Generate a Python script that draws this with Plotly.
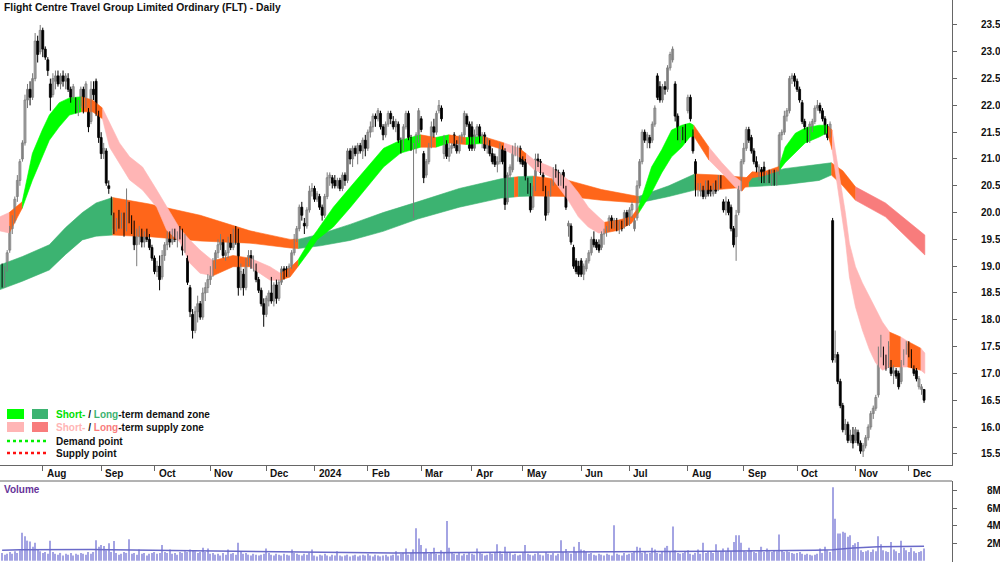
import plotly.graph_objects as go

W, H = 1000, 562
FONT = "Liberation Sans, Arial, sans-serif"

title_text = "Flight Centre Travel Group Limited Ordinary (FLT) - Daily"
month_labels = ["Aug", "Sep", "Oct", "Nov", "Dec", "2024", "Feb", "Mar", "Apr",
                "May", "Jun", "Jul", "Aug", "Sep", "Oct", "Nov", "Dec"]
month_start_idx = [16, 39, 60, 82, 104, 123, 144, 165, 185, 205, 228, 247, 270,
                   292, 313, 336, 357]
price_ticks = [15.5, 16.0, 16.5, 17.0, 17.5, 18.0, 18.5, 19.0, 19.5, 20.0, 20.5,
               21.0, 21.5, 22.0, 22.5, 23.0, 23.5]
vol_ticks = [2, 4, 6, 8]
vol_tick_text = ["2M", "4M", "6M", "8M"]

opens = [
    19.00, 18.70, 18.95, 19.30, 19.70, 19.85, 20.30, 20.60, 21.00, 21.30,
    22.10, 22.30, 22.15, 22.50, 23.20, 23.00, 23.40, 23.05, 22.85, 22.40,
    22.20, 22.45, 22.55, 22.40, 22.55, 22.45, 22.50, 22.30, 22.15, 22.10,
    21.95, 22.00, 22.30, 22.00, 21.90, 21.70, 22.30, 22.45, 21.85, 21.40,
    21.10, 21.15, 20.50, 20.25, 19.95, 19.70, 19.85, 19.80, 19.95, 19.70,
    20.15, 19.90, 19.70, 19.40, 19.55, 19.60, 19.45, 19.60, 19.50, 19.35,
    19.15, 18.90, 19.00, 18.80, 19.20, 19.40, 19.55, 19.45, 19.60, 19.50,
    19.60, 19.50, 19.30, 19.15, 18.60, 18.10, 17.80, 18.15, 18.30, 18.05,
    18.50, 18.60, 18.75, 18.95, 19.05, 19.25, 19.40, 19.45, 19.20, 19.25,
    19.45, 19.35, 19.60, 19.50, 18.60, 18.85, 18.60, 19.10, 19.20, 19.05,
    19.00, 18.75, 18.55, 18.30, 18.10, 18.35, 18.50, 18.35, 18.65, 18.40,
    18.70, 18.95, 18.95, 18.85, 19.00, 19.25, 19.50, 19.70, 20.10, 19.80,
    19.75, 20.05, 20.40, 20.45, 20.25, 20.30, 20.10, 19.95, 20.30, 20.65,
    20.65, 20.60, 20.50, 20.60, 20.45, 20.70, 20.60, 21.15, 21.00, 21.20,
    21.10, 21.25, 21.15, 21.35, 21.20, 21.50, 21.60, 21.80, 21.75, 21.85,
    21.60, 21.45, 21.65, 21.85, 21.70, 21.60, 21.65, 21.30, 21.20, 21.60,
    21.85, 21.40, 21.20, 21.25, 21.35, 21.75, 21.10, 20.70, 20.95, 21.25,
    21.60, 21.50, 21.90, 21.95, 21.10, 21.30, 21.05, 21.20, 21.45, 21.25,
    21.15, 21.40, 21.45, 21.80, 21.65, 21.60, 21.20, 21.45, 21.60, 21.35,
    21.45, 21.20, 21.30, 21.10, 21.05, 20.90, 20.95, 21.20, 21.15, 20.20,
    20.70, 20.80, 21.15, 21.10, 21.20, 21.00, 20.95, 20.60, 20.50, 20.10,
    20.45, 21.00, 20.95, 20.70, 20.45, 20.00, 20.35, 20.55, 20.80, 20.75,
    20.55, 20.75, 20.45, 19.75, 19.75, 19.35, 19.10, 19.00, 19.10, 18.85,
    18.95, 19.10, 19.25, 19.50, 19.45, 19.40, 19.35, 19.60, 19.65, 19.70,
    19.90, 19.75, 19.85, 19.70, 19.80, 19.75, 20.00, 19.80, 20.05, 19.70,
    19.90, 20.50, 20.95, 21.50, 21.35, 21.40, 21.35, 21.65, 22.55, 22.35,
    22.10, 22.35, 22.30, 22.70, 22.85, 22.40, 21.80, 21.40, 21.50, 21.60,
    21.90, 22.15, 21.50, 20.95, 20.45, 20.40, 20.45, 20.30, 20.55, 20.45,
    20.35, 20.55, 20.45, 20.65, 20.20, 20.05, 20.20, 20.10, 19.70, 19.55,
    20.00, 20.45, 20.95, 21.20, 21.55, 21.40, 21.15, 20.95, 20.75, 20.80,
    20.85, 20.60, 20.75, 20.60, 20.75, 20.55, 20.75, 21.45, 21.50, 21.80,
    21.90, 22.50, 22.55, 22.45, 22.30, 22.05, 21.70, 21.55, 21.35, 21.60,
    21.70, 21.95, 22.00, 21.90, 21.75, 21.60, 21.45, 19.85, 17.30, 17.35,
    16.85, 16.40, 15.95, 16.05, 15.75, 15.85, 15.75, 15.90, 15.70, 15.55,
    15.65, 15.80, 16.00, 16.25, 16.35, 16.60, 17.40, 17.45, 17.25, 17.15,
    17.20, 17.00, 17.05, 17.00, 16.85, 17.20, 17.40, 17.55, 17.40, 17.10,
    17.05, 16.75, 16.70, 16.70,
]

highs = [
    19.05, 19.00, 19.30, 19.75, 19.95, 20.30, 20.70, 21.00, 21.35, 22.20,
    22.40, 22.45, 22.60, 23.35, 23.30, 23.50, 23.45, 23.10, 22.90, 22.50,
    22.60, 22.65, 22.65, 22.60, 22.65, 22.60, 22.60, 22.35, 22.40, 22.15,
    22.10, 22.35, 22.35, 22.45, 21.95, 22.45, 22.45, 22.50, 21.90, 21.50,
    21.30, 21.20, 20.60, 20.30, 20.00, 19.90, 20.05, 20.00, 20.00, 20.45,
    20.20, 19.95, 19.85, 19.70, 19.75, 19.70, 19.65, 19.70, 19.60, 19.40,
    19.20, 19.10, 19.20, 19.30, 19.45, 19.65, 19.65, 19.70, 19.70, 19.65,
    19.75, 19.70, 19.60, 19.20, 18.65, 18.20, 18.25, 18.45, 18.35, 18.60,
    18.70, 18.85, 19.00, 19.15, 19.30, 19.50, 19.60, 19.50, 19.30, 19.55,
    19.60, 19.70, 19.75, 19.70, 19.05, 18.95, 19.15, 19.30, 19.30, 19.20,
    19.05, 18.80, 18.60, 18.40, 18.45, 18.55, 18.80, 18.70, 18.75, 18.75,
    19.00, 19.00, 19.00, 19.05, 19.30, 19.60, 19.75, 20.15, 20.20, 19.90,
    20.10, 20.50, 20.55, 20.50, 20.40, 20.35, 20.15, 20.35, 20.75, 20.75,
    20.70, 20.70, 20.65, 20.65, 20.75, 20.75, 21.20, 21.20, 21.25, 21.25,
    21.30, 21.30, 21.40, 21.45, 21.55, 21.70, 21.85, 21.85, 21.95, 21.90,
    21.65, 21.70, 21.90, 21.90, 21.80, 21.75, 21.70, 21.40, 21.65, 21.90,
    21.90, 21.45, 21.30, 21.50, 21.95, 21.80, 21.15, 21.00, 21.30, 21.70,
    21.75, 21.90, 22.10, 22.00, 21.45, 21.35, 21.30, 21.30, 21.50, 21.35,
    21.45, 21.50, 21.90, 21.85, 21.70, 21.70, 21.55, 21.65, 21.65, 21.50,
    21.50, 21.40, 21.35, 21.20, 21.10, 21.05, 21.30, 21.25, 21.20, 20.75,
    20.90, 21.25, 21.30, 21.25, 21.25, 21.05, 21.00, 20.65, 20.55, 20.50,
    21.10, 21.10, 21.00, 20.75, 20.50, 20.40, 20.60, 20.85, 20.90, 20.80,
    20.75, 20.80, 20.50, 19.85, 19.80, 19.40, 19.15, 19.10, 19.15, 19.05,
    19.15, 19.30, 19.55, 19.65, 19.50, 19.50, 19.65, 19.70, 19.75, 19.95,
    19.95, 19.90, 19.90, 19.85, 19.85, 20.05, 20.05, 20.10, 20.20, 19.90,
    20.60, 21.00, 21.55, 21.55, 21.50, 21.45, 21.70, 22.00, 22.60, 22.45,
    22.40, 22.45, 22.75, 23.00, 23.10, 22.45, 21.85, 21.55, 21.60, 21.65,
    22.20, 22.20, 21.55, 21.00, 20.55, 20.55, 20.50, 20.60, 20.60, 20.50,
    20.55, 20.60, 20.70, 20.70, 20.25, 20.30, 20.25, 20.15, 19.75, 20.05,
    20.50, 21.00, 21.30, 21.60, 21.60, 21.45, 21.20, 21.05, 20.90, 20.85,
    20.95, 20.75, 20.80, 20.80, 20.80, 20.80, 21.50, 21.55, 21.90, 21.95,
    22.55, 22.60, 22.60, 22.50, 22.35, 22.10, 21.75, 21.60, 21.70, 21.75,
    22.00, 22.10, 22.05, 21.95, 21.80, 21.65, 21.70, 19.90, 17.80, 17.40,
    16.90, 16.45, 16.15, 16.10, 15.95, 16.00, 16.00, 15.95, 15.75, 15.70,
    15.85, 16.05, 16.30, 16.40, 16.60, 17.50, 17.72, 17.50, 17.35, 17.60,
    17.25, 17.15, 17.10, 17.05, 17.25, 17.45, 17.60, 17.60, 17.45, 17.15,
    17.10, 16.95, 16.80, 16.70,
]

lows = [
    18.60, 18.60, 18.90, 19.25, 19.60, 19.80, 20.20, 20.50, 20.95, 21.25,
    21.95, 22.00, 22.10, 22.45, 22.80, 22.95, 22.90, 22.85, 22.55, 21.90,
    22.15, 22.30, 22.35, 22.30, 22.35, 22.30, 22.25, 22.05, 22.10, 21.85,
    21.80, 21.95, 21.85, 21.95, 21.50, 21.65, 22.10, 21.80, 21.30, 21.00,
    21.00, 20.50, 20.35, 19.95, 19.60, 19.65, 19.70, 19.70, 19.55, 19.65,
    19.80, 19.60, 19.30, 19.00, 19.40, 19.35, 19.35, 19.45, 19.30, 19.10,
    18.85, 18.80, 18.55, 18.75, 19.10, 19.30, 19.35, 19.40, 19.45, 19.35,
    19.50, 19.20, 19.25, 18.65, 18.05, 17.65, 17.75, 17.95, 18.00, 18.00,
    18.35, 18.50, 18.65, 18.80, 18.95, 19.15, 19.30, 19.15, 19.10, 19.15,
    19.30, 19.30, 19.40, 18.45, 18.55, 18.45, 18.55, 19.00, 18.95, 18.90,
    18.70, 18.50, 18.25, 17.87, 18.05, 18.25, 18.30, 18.25, 18.30, 18.35,
    18.65, 18.75, 18.80, 18.80, 18.95, 19.20, 19.45, 19.65, 19.85, 19.60,
    19.70, 20.00, 20.30, 20.20, 20.20, 20.05, 19.85, 19.90, 20.25, 20.50,
    20.45, 20.45, 20.45, 20.40, 20.40, 20.50, 20.55, 20.90, 20.85, 21.05,
    20.90, 21.10, 21.00, 21.05, 21.15, 21.40, 21.50, 21.60, 21.70, 21.55,
    21.35, 21.40, 21.60, 21.65, 21.55, 21.50, 21.30, 21.10, 21.15, 21.55,
    21.35, 21.15, 19.90, 21.10, 21.30, 21.50, 20.55, 20.65, 20.90, 21.20,
    21.40, 21.45, 21.85, 21.70, 21.00, 21.00, 20.95, 21.10, 21.20, 21.10,
    21.10, 21.30, 21.40, 21.60, 21.15, 21.15, 21.15, 21.40, 21.30, 21.20,
    21.15, 21.10, 21.05, 20.90, 20.85, 20.75, 20.90, 20.90, 20.05, 20.15,
    20.60, 20.75, 21.05, 20.95, 20.90, 20.85, 20.60, 20.35, 20.00, 20.05,
    20.40, 20.85, 20.70, 20.40, 19.85, 19.95, 20.30, 20.50, 20.65, 20.50,
    20.50, 20.45, 20.05, 19.55, 19.40, 18.95, 18.85, 18.80, 18.80, 18.74,
    18.90, 19.05, 19.20, 19.35, 19.30, 19.25, 19.30, 19.40, 19.55, 19.65,
    19.70, 19.70, 19.65, 19.60, 19.65, 19.70, 19.75, 19.75, 19.90, 19.65,
    19.85, 20.45, 20.90, 21.30, 21.20, 21.20, 21.30, 21.60, 22.10, 22.05,
    22.05, 22.20, 22.25, 22.65, 22.80, 21.70, 21.35, 21.30, 21.35, 21.30,
    21.85, 21.70, 21.10, 20.30, 20.30, 20.30, 20.25, 20.25, 20.30, 20.30,
    20.30, 20.35, 20.40, 20.45, 20.00, 19.95, 19.95, 19.65, 19.35, 19.10,
    19.95, 20.40, 20.90, 21.15, 21.30, 21.10, 20.90, 20.75, 20.60, 20.55,
    20.55, 20.55, 20.55, 20.50, 20.50, 20.50, 20.70, 21.35, 21.45, 21.70,
    21.85, 22.40, 22.35, 22.25, 22.05, 21.65, 21.55, 21.30, 21.30, 21.50,
    21.65, 21.90, 21.85, 21.70, 21.45, 21.35, 21.40, 17.20, 17.20, 16.80,
    16.35, 15.90, 15.85, 15.70, 15.70, 15.60, 15.70, 15.65, 15.50, 15.44,
    15.60, 15.75, 15.95, 16.15, 16.30, 16.55, 17.30, 17.15, 17.05, 17.10,
    16.95, 16.80, 16.90, 16.70, 16.80, 17.15, 17.35, 17.30, 17.10, 16.95,
    16.85, 16.70, 16.60, 16.45,
]

closes = [
    18.70, 18.95, 19.25, 19.70, 19.85, 20.25, 20.60, 20.95, 21.30, 22.10,
    22.30, 22.15, 22.50, 23.20, 22.95, 23.40, 23.05, 22.90, 22.65, 22.15,
    22.50, 22.55, 22.40, 22.55, 22.45, 22.55, 22.30, 22.15, 22.35, 21.95,
    22.05, 22.30, 21.90, 22.40, 21.60, 22.30, 22.20, 21.90, 21.40, 21.10,
    21.20, 20.55, 20.45, 20.00, 19.70, 19.85, 19.75, 19.90, 19.65, 20.20,
    19.90, 19.70, 19.40, 19.55, 19.65, 19.45, 19.60, 19.50, 19.35, 19.15,
    18.90, 19.00, 18.75, 19.20, 19.40, 19.55, 19.45, 19.60, 19.50, 19.60,
    19.55, 19.30, 19.50, 18.70, 18.15, 17.80, 18.15, 18.30, 18.05, 18.50,
    18.60, 18.75, 18.95, 19.05, 19.25, 19.40, 19.50, 19.20, 19.25, 19.45,
    19.35, 19.65, 19.50, 18.60, 18.90, 18.60, 19.10, 19.20, 19.05, 19.10,
    18.75, 18.55, 18.30, 18.10, 18.40, 18.50, 18.35, 18.65, 18.40, 18.70,
    18.95, 18.85, 18.85, 19.00, 19.25, 19.50, 19.70, 20.10, 19.95, 19.75,
    20.05, 20.40, 20.45, 20.25, 20.35, 20.10, 19.95, 20.30, 20.65, 20.70,
    20.55, 20.50, 20.60, 20.45, 20.70, 20.60, 21.15, 21.00, 21.20, 21.10,
    21.25, 21.15, 21.35, 21.20, 21.50, 21.60, 21.80, 21.75, 21.90, 21.60,
    21.45, 21.65, 21.85, 21.75, 21.60, 21.70, 21.35, 21.20, 21.60, 21.85,
    21.40, 21.20, 21.25, 21.45, 21.90, 21.55, 20.65, 20.95, 21.25, 21.60,
    21.50, 21.85, 22.00, 21.75, 21.40, 21.05, 21.20, 21.25, 21.25, 21.15,
    21.40, 21.45, 21.85, 21.65, 21.20, 21.20, 21.45, 21.60, 21.35, 21.45,
    21.20, 21.30, 21.10, 20.95, 20.90, 20.95, 21.20, 20.95, 20.15, 20.70,
    20.85, 21.15, 21.20, 21.20, 20.95, 20.90, 20.65, 20.40, 20.05, 20.45,
    21.00, 20.95, 20.75, 20.45, 19.95, 20.35, 20.55, 20.80, 20.70, 20.55,
    20.70, 20.50, 20.10, 19.80, 19.45, 19.00, 18.90, 18.85, 18.85, 19.00,
    19.10, 19.25, 19.50, 19.40, 19.35, 19.30, 19.60, 19.65, 19.70, 19.90,
    19.75, 19.85, 19.70, 19.80, 19.70, 20.00, 19.80, 20.05, 20.15, 19.85,
    20.50, 20.95, 21.50, 21.35, 21.45, 21.30, 21.65, 21.95, 22.15, 22.10,
    22.35, 22.30, 22.70, 22.95, 23.05, 21.80, 21.40, 21.50, 21.40, 21.35,
    22.15, 21.75, 21.15, 20.45, 20.50, 20.45, 20.30, 20.55, 20.35, 20.40,
    20.50, 20.40, 20.65, 20.50, 20.05, 20.20, 20.00, 19.70, 19.40, 19.95,
    20.45, 20.95, 21.20, 21.55, 21.35, 21.15, 20.95, 20.85, 20.85, 20.60,
    20.60, 20.70, 20.60, 20.75, 20.55, 20.75, 21.45, 21.50, 21.80, 21.90,
    22.50, 22.55, 22.45, 22.30, 22.10, 21.70, 21.60, 21.35, 21.65, 21.70,
    21.95, 22.00, 21.90, 21.75, 21.50, 21.40, 21.65, 17.25, 17.35, 16.85,
    16.40, 15.95, 16.05, 15.75, 15.85, 15.70, 15.95, 15.70, 15.55, 15.65,
    15.80, 16.00, 16.25, 16.35, 16.55, 17.40, 17.55, 17.20, 17.10, 17.50,
    17.00, 17.05, 16.95, 16.75, 17.20, 17.40, 17.55, 17.35, 17.15, 17.00,
    16.90, 16.90, 16.75, 16.50,
]

# daily volume, millions of shares
volumes = [
    0.9, 0.7, 0.8, 1.0, 0.8, 1.1, 0.9, 1.2, 3.2, 2.8,
    2.3, 2.2, 1.6, 2.05, 1.3, 1.1, 0.9, 1.0, 0.8, 2.3,
    1.0, 0.8, 0.7, 0.9, 0.6, 0.8, 0.7, 0.9, 0.6, 0.8,
    0.7, 0.9, 0.8, 0.7, 1.0, 0.8, 1.0, 2.35, 1.6, 1.8,
    1.7, 1.2, 2.0, 1.0, 2.25, 0.9, 0.7, 0.8, 1.0, 0.9,
    2.45, 0.8, 0.9, 0.7, 1.3, 0.8, 0.9, 0.6, 0.8, 0.9,
    1.0, 0.8, 0.9, 1.8, 1.0, 0.9, 1.3, 0.8, 0.9, 0.7,
    1.0, 0.9, 1.1, 1.0, 1.3, 1.2, 1.1, 0.9, 1.0, 1.5,
    1.0, 1.4, 0.8, 0.9, 0.7, 0.8, 0.6, 0.9, 0.7, 1.3,
    0.8, 0.9, 0.7, 2.05, 1.0, 0.8, 0.9, 0.7, 0.6, 0.8,
    0.7, 0.6, 0.7, 0.8, 1.4, 0.9, 0.7, 0.6, 0.8, 0.7,
    0.6, 0.8, 0.7, 0.6, 1.3, 0.9, 0.8, 0.7, 0.6, 0.8,
    0.7, 0.9, 1.3, 0.6, 0.5, 0.7, 0.6, 0.8, 0.6, 0.5,
    0.7, 0.6, 1.1, 0.6, 0.5, 0.6, 0.7, 0.5, 0.6, 0.7,
    0.5, 0.6, 0.7, 0.6, 0.8, 0.6, 0.5, 0.7, 0.6, 0.5,
    0.6, 0.7, 0.5, 0.6, 0.7, 1.1, 0.6, 0.8, 0.9, 1.4,
    0.7, 0.9, 1.3, 3.7, 2.55, 1.8, 1.0, 1.4, 0.8, 0.9,
    1.5, 0.8, 0.7, 1.2, 0.9, 4.55, 1.5, 0.9, 0.8, 0.7,
    0.9, 0.6, 0.8, 0.7, 0.9, 0.8, 0.7, 1.4, 0.9, 0.8,
    0.6, 0.7, 0.9, 0.8, 1.0, 1.9, 1.1, 0.8, 1.6, 0.9,
    0.9, 0.7, 0.8, 0.6, 0.7, 0.9, 1.8, 0.8, 0.7, 0.6,
    0.8, 0.9, 0.7, 0.6, 1.0, 0.8, 0.7, 0.9, 0.6, 0.8,
    2.35, 1.0, 1.35, 0.9, 0.8, 1.6, 1.0, 2.15, 1.3, 1.2,
    1.0, 0.8, 0.9, 0.7, 0.6, 0.8, 0.7, 0.6, 0.8, 0.7,
    0.6, 4.05, 0.8, 0.7, 0.6, 0.9, 0.7, 0.8, 0.9, 1.0,
    1.6, 1.5, 0.9, 1.0, 0.8, 0.9, 1.5, 1.3, 0.9, 0.8,
    1.0, 1.5, 1.7, 1.0, 3.9, 1.2, 0.9, 0.8, 0.9, 1.0,
    1.2, 0.8, 0.7, 0.9, 1.3, 0.8, 2.05, 0.9, 1.0, 1.1,
    0.9, 1.9, 1.0, 1.1, 1.4, 1.0, 1.5, 1.1, 2.15, 2.9,
    2.9, 2.05, 1.1, 1.0, 1.5, 1.2, 1.0, 0.9, 1.1, 1.6,
    1.0, 1.4, 1.1, 1.0, 1.2, 1.1, 3.0, 1.2, 1.0, 1.1,
    1.0, 0.9, 0.8, 0.9, 1.0, 0.8, 0.7, 0.8, 0.7, 0.6,
    0.7, 0.8, 1.4, 0.9, 1.6, 1.2, 1.0, 8.4, 4.8, 3.1,
    3.1, 3.3, 3.2, 2.75, 2.9, 1.8, 2.0, 2.15, 1.2, 1.0,
    1.1, 1.2, 1.0, 1.3, 1.1, 2.8, 1.9, 1.2, 1.1, 1.0,
    2.15, 1.3, 1.1, 0.9, 2.3, 1.5, 1.2, 1.0, 1.5, 1.1,
    0.9, 1.0, 1.1, 1.4,
]

# volume moving-average line (read at sample points)
vma_x = [0, 7, 35, 62, 104, 125, 154, 196, 240, 280, 320, 327, 335, 345, 363]
vma_y = [1.2, 1.25, 1.3, 1.2, 1.1, 1.0, 0.88, 0.98, 1.02, 1.1, 1.2, 1.25, 1.45, 1.6, 1.65]

# long-term zone band (sample points; zone = colour of segment starting there)
lt_x = [-1, 8, 18.6, 25, 31.6, 37, 43.5, 58, 78, 97.6, 113.4, 116.6, 125.3, 137,
        150, 163.6, 180, 196.4, 201.6, 203.2, 209, 223, 236, 250.6, 262.5, 272.7,
        282, 294, 308, 321.7, 326.5, 331, 336, 347.8, 363.3]
lt_top = [19.02, 19.18, 19.40, 19.72, 20.00, 20.18, 20.28, 20.16, 19.95, 19.66,
          19.50, 19.50, 19.60, 19.78, 20.00, 20.20, 20.45, 20.63, 20.66, 20.67,
          20.68, 20.60, 20.43, 20.30, 20.50, 20.72, 20.70, 20.65, 20.82, 20.90,
          20.93, 20.78, 20.48, 20.18, 19.58]
lt_bot = [18.56, 18.72, 18.93, 19.22, 19.49, 19.56, 19.58, 19.55, 19.47, 19.43,
          19.34, 19.33, 19.38, 19.48, 19.65, 19.88, 20.10, 20.27, 20.29, 20.30,
          20.31, 20.30, 20.23, 20.18, 20.30, 20.42, 20.43, 20.48, 20.52, 20.60,
          20.70, 20.50, 20.23, 19.92, 19.21]
lt_zone = ["LD", "LD", "LD", "LD", "LD", "LD", "O", "O", "O", "O",
           "O", "LD", "LD", "LD", "LD", "LD", "LD", "LD", "O", "LD",
           "O", "O", "O", "LD", "LD", "O", "O", "LD", "LD", "LD",
           "O", "O", "LS", "LS", "LS"]

# short-term zone band
st_x = [-1, 2.8, 7.9, 11.9, 15.8, 18.6, 22.5, 26.5, 31.2, 35.6,
        39.5, 42.3, 46.2, 50.2, 55.3, 60.9, 64.8, 70, 73.9, 77.9,
        83, 90.9, 97.6, 105.5, 109.5, 113.4, 116.6, 121.3, 124.1, 130.4,
        137.2, 143.9, 150.2, 156.9, 164.8, 170.8, 175.9, 182.6, 189.3, 197.6,
        203.6, 206.3, 209.5, 216.2, 222.9, 226.9, 230.8, 234.8, 237.2, 242.7,
        247.8, 250.6, 255.7, 259.7, 263.6, 267.6, 270.8, 272.3, 278.3, 283.4,
        288.5, 291.3, 295.3, 299.2, 305.9, 308.3, 312.3, 316.2, 321.7, 324.9,
        326.8, 329.6, 332, 333.6, 336, 338.7, 341.5, 343.9, 346.6, 349.4,
        353.8, 356.5, 361.7, 363.3]
st_top = [19.92, 20.00, 20.20, 21.10, 21.54, 21.82, 22.05, 22.14, 22.16, 22.10,
          21.95, 21.67, 21.30, 21.04, 20.85, 20.42, 20.10, 19.70, 19.49, 19.30,
          19.10, 19.20, 19.15, 18.99, 18.87, 18.97, 19.12, 19.49, 19.67, 20.10,
          20.48, 20.85, 21.20, 21.35, 21.45, 21.40, 21.45, 21.40, 21.42, 21.30,
          21.20, 21.10, 20.98, 20.85, 20.61, 20.37, 20.10, 19.92, 19.82, 19.86,
          19.92, 20.10, 20.85, 21.17, 21.54, 21.63, 21.67, 21.63, 21.22, 20.93,
          20.67, 20.57, 20.76, 20.75, 20.86, 21.22, 21.48, 21.58, 21.63, 21.63,
          21.54, 20.74, 20.00, 19.43, 18.99, 18.69, 18.43, 18.18, 17.96, 17.77,
          17.68, 17.60, 17.47, 17.38]
st_bot = [19.66, 19.62, 20.08, 20.60, 21.04, 21.35, 21.60, 21.82, 21.88, 21.88,
          21.75, 21.22, 20.93, 20.61, 20.42, 20.10, 19.67, 19.45, 19.06, 18.87,
          18.82, 18.99, 18.99, 18.74, 18.74, 18.80, 19.00, 19.30, 19.50, 19.73,
          20.10, 20.48, 20.85, 21.11, 21.22, 21.22, 21.30, 21.27, 21.29, 21.17,
          21.04, 20.95, 20.80, 20.66, 20.23, 19.92, 19.73, 19.62, 19.62, 19.67,
          19.80, 19.99, 20.37, 20.74, 21.04, 21.22, 21.41, 21.43, 20.98, 20.74,
          20.48, 20.40, 20.65, 20.68, 20.78, 20.93, 21.11, 21.30, 21.41, 21.49,
          21.17, 20.23, 19.49, 18.80, 18.24, 17.81, 17.44, 17.20, 17.06, 17.12,
          17.12, 17.12, 17.06, 17.00]
st_zone = ["SS", "O", "SD", "SD", "SD", "SD", "SD", "SD", "O", "O",
           "SS", "SS", "SS", "SS", "SS", "SS", "SS", "SS", "SS", "SS",
           "O", "O", "SS", "SS", "O", "O", "SD", "SD", "SD", "SD",
           "SD", "SD", "SD", "SD", "O", "SD", "O", "SD", "O", "SS",
           "O", "SS", "SS", "SS", "SS", "SS", "SS", "SS", "O", "O",
           "O", "SD", "SD", "SD", "SD", "SD", "SD", "O", "SS", "SS",
           "SS", "O", "O", "O", "SD", "SD", "SD", "SD", "SD", "O",
           "SS", "SS", "SS", "SS", "SS", "SS", "SS", "SS", "SS", "O",
           "SS", "O", "SS", "SS"]

zone_colors = {
    "SD": "#00FF00",   # short-term demand
    "LD": "#3CB371",   # long-term demand
    "SS": "#FFB5B5",   # short-term supply
    "LS": "#F87C7C",   # long-term supply
    "O": "#FF661A",    # transition
}

N = len(closes)
assert len(opens) == N and len(highs) == N and len(lows) == N and len(volumes) == N, \
    (len(opens), len(highs), len(lows), len(closes), len(volumes))
idx = list(range(N))


def zone_polys(xs, tops, bots, zones):
    out = []
    k = 0
    n = len(xs)
    while k < n - 1:
        z = zones[k]
        j = k
        while j < n - 1 and zones[j] == z:
            j += 1
        px = list(xs[k:j + 1]) + list(xs[k:j + 1])[::-1]
        py = list(tops[k:j + 1]) + list(bots[k:j + 1])[::-1]
        out.append((z, px, py))
        k = j
    return out


fig = go.Figure()

for bx, bt, bb, bz in [(lt_x, lt_top, lt_bot, lt_zone), (st_x, st_top, st_bot, st_zone)]:
    for z, px, py in zone_polys(bx, bt, bb, bz):
        fig.add_trace(go.Scatter(
            x=px, y=py, mode="lines", fill="toself", fillcolor=zone_colors[z],
            line=dict(width=0.6, color=zone_colors[z]), hoverinfo="skip",
            showlegend=False, xaxis="x", yaxis="y"))

# candles: wicks + bodies, split by direction
UP_LINE, UP_FILL = "#7A7A7A", "#D6D6D6"
DN_LINE, DN_FILL = "#000000", "#000000"
for is_up, lc, fc in [(True, UP_LINE, UP_FILL), (False, DN_LINE, DN_FILL)]:
    sel = [i for i in idx if (closes[i] >= opens[i]) == is_up]
    wx, wy = [], []
    for i in sel:
        wx += [i, i, None]
        wy += [lows[i], highs[i], None]
    fig.add_trace(go.Scatter(x=wx, y=wy, mode="lines", line=dict(color=lc, width=1),
                             hoverinfo="skip", showlegend=False, xaxis="x", yaxis="y"))
    fig.add_trace(go.Bar(
        x=sel,
        y=[max(abs(closes[i] - opens[i]), 0.015) for i in sel],
        base=[min(opens[i], closes[i]) for i in sel],
        width=0.78, marker=dict(color=fc, line=dict(color=lc, width=0.8)),
        hoverinfo="skip", showlegend=False, xaxis="x", yaxis="y"))

fig.add_trace(go.Bar(
    x=idx, y=volumes, width=0.45, marker=dict(color="#A4A4E3", line=dict(width=0)),
    hoverinfo="skip", showlegend=False, xaxis="x2", yaxis="y2"))
fig.add_trace(go.Scatter(
    x=vma_x, y=vma_y, mode="lines", line=dict(color="#6A6AC9", width=1.5),
    hoverinfo="skip", showlegend=False, xaxis="x2", yaxis="y2"))

XR = [-0.83, 374.0]
tickfont = dict(family=FONT, size=10, color="#111111", weight="bold")
price_dom = [1 - 465 / H, 1.0]
vol_dom = [0.0, 1 - 481 / H]

fig.update_layout(
    width=W, height=H, margin=dict(l=0, r=0, t=0, b=0),
    paper_bgcolor="white", plot_bgcolor="white", showlegend=False,
    barmode="overlay",
    font=dict(family=FONT, size=10, color="#111111"),
    xaxis=dict(domain=[0, 0.952], range=XR, anchor="y", showgrid=False, zeroline=False,
               showline=True, linecolor="#666666", linewidth=1, ticks="outside",
               ticklen=5, tickcolor="#666666", tickvals=month_start_idx,
               showticklabels=False, fixedrange=True),
    yaxis=dict(domain=price_dom, range=[15.291, 23.966], side="right", anchor="x",
               showgrid=False, zeroline=False, showline=True, linecolor="#666666",
               linewidth=1, ticks="outside", ticklen=4, tickcolor="#666666",
               tickvals=price_ticks, tickformat=".1f", tickfont=tickfont,
               ticklabelstandoff=22, fixedrange=True),
    xaxis2=dict(domain=[0, 0.952], range=XR, anchor="y2", showgrid=False, zeroline=False,
                showline=False, showticklabels=False, ticks="", fixedrange=True),
    yaxis2=dict(domain=vol_dom, range=[-0.137, 9.1], side="right", anchor="x2",
                showgrid=False, zeroline=False, showline=True, linecolor="#666666",
                linewidth=1, ticks="outside", ticklen=4, tickcolor="#666666",
                tickvals=vol_ticks, ticktext=vol_tick_text, tickfont=tickfont,
                ticklabelstandoff=28, fixedrange=True),
)


def pxx(x):
    return x / W


def pyy(y):
    return 1 - y / H


shapes = [
    dict(type="line", xref="paper", yref="paper", x0=0, x1=0.952, y0=pyy(481), y1=pyy(481),
         line=dict(color="#666666", width=1)),
    dict(type="rect", xref="paper", yref="paper", x0=pxx(7), x1=pxx(24), y0=pyy(419), y1=pyy(409),
         fillcolor=zone_colors["SD"], line=dict(width=0)),
    dict(type="rect", xref="paper", yref="paper", x0=pxx(32), x1=pxx(48), y0=pyy(419), y1=pyy(409),
         fillcolor=zone_colors["LD"], line=dict(width=0)),
    dict(type="rect", xref="paper", yref="paper", x0=pxx(7), x1=pxx(24), y0=pyy(432), y1=pyy(422),
         fillcolor=zone_colors["SS"], line=dict(width=0)),
    dict(type="rect", xref="paper", yref="paper", x0=pxx(32), x1=pxx(48), y0=pyy(432), y1=pyy(422),
         fillcolor=zone_colors["LS"], line=dict(width=0)),
    dict(type="line", xref="paper", yref="paper", x0=pxx(7), x1=pxx(47), y0=pyy(441), y1=pyy(441),
         line=dict(color="#00F000", width=2.5, dash="dot")),
    dict(type="line", xref="paper", yref="paper", x0=pxx(7), x1=pxx(47), y0=pyy(453), y1=pyy(453),
         line=dict(color="#FF1010", width=2.5, dash="dot")),
]

annotations = [
    dict(text="<b>" + title_text + "</b>", xref="paper", yref="paper", x=pxx(2), y=pyy(8),
         xanchor="left", yanchor="middle", showarrow=False,
         font=dict(family=FONT, size=10.3, color="#111111")),
    dict(text="<b>Volume</b>", xref="paper", yref="paper", x=pxx(2), y=pyy(489),
         xanchor="left", yanchor="middle", showarrow=False,
         font=dict(family=FONT, size=10, color="#663399")),
    dict(text="<b><span style='color:#00E000'>Short-</span> / <span style='color:#3CB371'>Long</span>-term demand zone</b>",
         xref="paper", yref="paper", x=pxx(54), y=pyy(414), xanchor="left", yanchor="middle",
         showarrow=False, font=dict(family=FONT, size=10, color="#111111")),
    dict(text="<b><span style='color:#FFB5B5'>Short-</span> / <span style='color:#F87C7C'>Long</span>-term supply zone</b>",
         xref="paper", yref="paper", x=pxx(54), y=pyy(427), xanchor="left", yanchor="middle",
         showarrow=False, font=dict(family=FONT, size=10, color="#111111")),
    dict(text="<b>Demand point</b>", xref="paper", yref="paper", x=pxx(54), y=pyy(441),
         xanchor="left", yanchor="middle", showarrow=False,
         font=dict(family=FONT, size=10, color="#111111")),
    dict(text="<b>Supply point</b>", xref="paper", yref="paper", x=pxx(54), y=pyy(453),
         xanchor="left", yanchor="middle", showarrow=False,
         font=dict(family=FONT, size=10, color="#111111")),
]
for lab, mi in zip(month_labels, month_start_idx):
    annotations.append(dict(text="<b>" + lab + "</b>", xref="x", yref="paper", x=mi,
                            y=pyy(474), xanchor="left", yanchor="middle", xshift=2,
                            showarrow=False, font=dict(family=FONT, size=10, color="#111111")))

fig.update_layout(shapes=shapes, annotations=annotations)
fig.write_html("out.html")
